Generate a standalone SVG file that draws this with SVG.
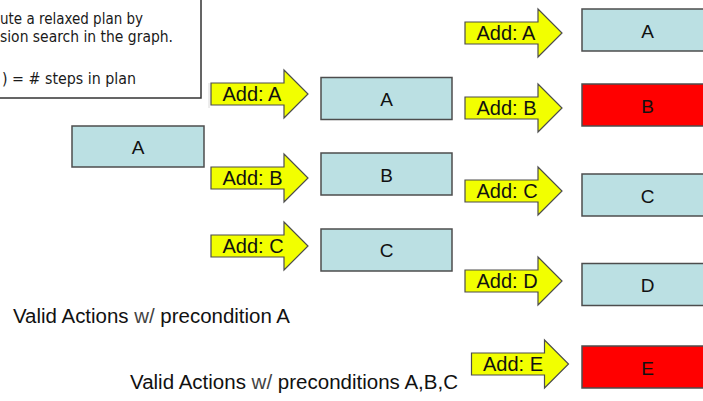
<svg xmlns="http://www.w3.org/2000/svg" width="703" height="401" viewBox="0 0 703 401">
  <defs>
    <style>
      .box { fill: #BBE0E3; stroke: #4d4d4d; stroke-width: 1.5; }
      .box.red { fill: #FF0000; }
      .lbl { font-family: "Liberation Sans", Arial, sans-serif; font-size: 19px; fill: #111; text-anchor: middle; }
      .arrow { fill: #F2FF00; stroke: #4d4d4d; stroke-width: 1.2; stroke-linejoin: miter; }
      .act { font-family: "Liberation Sans", Arial, sans-serif; font-size: 20px; fill: #111; }
      .note { font-family: "DejaVu Sans Condensed", "DejaVu Sans", sans-serif; font-stretch: condensed; font-size: 15px; fill: #1a1a1a; }
      .caption { font-family: "Liberation Sans", Arial, sans-serif; font-size: 20px; fill: #111; }
    </style>
    <!-- block arrow, origin at body left / vertical centre -->
    <path id="blk" d="M0,-11 H73 V-24 L97,0 L73,24 V11 H0 Z"/>
  </defs>

  <rect width="703" height="401" fill="#ffffff"/>

  <!-- explanatory note panel -->
  <g id="note">
    <rect x="-10" y="-10" width="211" height="108" fill="#ffffff" stroke="#333333" stroke-width="1.5"/>
    <line x1="209" y1="83" x2="209" y2="108" stroke="#dadada" stroke-width="1"/>
    <text class="note" x="0" y="24" textLength="143" lengthAdjust="spacingAndGlyphs">ute a relaxed plan by</text>
    <text class="note" x="0" y="42" textLength="173" lengthAdjust="spacingAndGlyphs">sion search in the graph.</text>
    <text class="note" x="2" y="84" textLength="134" lengthAdjust="spacingAndGlyphs">) = # steps in plan</text>
  </g>

  <!-- state nodes -->
  <g id="s0-A">
    <rect class="box" x="72" y="126" width="132" height="41"/>
    <text class="lbl" x="138" y="154">A</text>
  </g>

  <g id="s1-A">
    <rect class="box" x="321" y="77.5" width="131" height="42"/>
    <text class="lbl" x="386.5" y="106">A</text>
  </g>
  <g id="s1-B">
    <rect class="box" x="321" y="153" width="131" height="42"/>
    <text class="lbl" x="386.5" y="181.5">B</text>
  </g>
  <g id="s1-C">
    <rect class="box" x="321" y="229" width="131" height="42"/>
    <text class="lbl" x="386.5" y="257">C</text>
  </g>

  <g id="s2-A">
    <rect class="box" x="582" y="9" width="131" height="42"/>
    <text class="lbl" x="647.5" y="37.5">A</text>
  </g>
  <g id="s2-B">
    <rect class="box red" x="582" y="84" width="131" height="42"/>
    <text class="lbl" x="647.5" y="112.5">B</text>
  </g>
  <g id="s2-C">
    <rect class="box" x="582" y="174" width="131" height="42"/>
    <text class="lbl" x="647.5" y="202.5">C</text>
  </g>
  <g id="s2-D">
    <rect class="box" x="582" y="263.5" width="131" height="42"/>
    <text class="lbl" x="647.5" y="292">D</text>
  </g>
  <g id="s2-E">
    <rect class="box red" x="582" y="346" width="131" height="42"/>
    <text class="lbl" x="647.5" y="374.5">E</text>
  </g>

  <!-- action arrows -->
  <g id="connectors">
    <g id="act1-A">
      <use href="#blk" class="arrow" transform="translate(211,94)"/>
      <text class="act" x="222.5" y="101">Add: A</text>
    </g>
    <g id="act1-B">
      <use href="#blk" class="arrow" transform="translate(211,178)"/>
      <text class="act" x="222.5" y="185">Add: B</text>
    </g>
    <g id="act1-C">
      <use href="#blk" class="arrow" transform="translate(211,246)"/>
      <text class="act" x="222.5" y="253">Add: C</text>
    </g>

    <g id="act2-A">
      <use href="#blk" class="arrow" transform="translate(465,33)"/>
      <text class="act" x="476.5" y="40">Add: A</text>
    </g>
    <g id="act2-B">
      <use href="#blk" class="arrow" transform="translate(465,108)"/>
      <text class="act" x="476.5" y="115">Add: B</text>
    </g>
    <g id="act2-C">
      <use href="#blk" class="arrow" transform="translate(465,191)"/>
      <text class="act" x="476.5" y="198">Add: C</text>
    </g>
    <g id="act2-D">
      <use href="#blk" class="arrow" transform="translate(465,281)"/>
      <text class="act" x="476.5" y="288">Add: D</text>
    </g>
    <g id="act2-E">
      <use href="#blk" class="arrow" transform="translate(471.5,364)"/>
      <text class="act" x="483" y="371">Add: E</text>
    </g>
  </g>

  <!-- captions -->
  <text class="caption" x="13" y="323" textLength="277" lengthAdjust="spacingAndGlyphs">Valid Actions <tspan fill="#444">w/</tspan> precondition A</text>
  <text class="caption" x="130" y="389" textLength="328" lengthAdjust="spacingAndGlyphs">Valid Actions <tspan fill="#444">w/</tspan> preconditions A,B,C</text>
</svg>
